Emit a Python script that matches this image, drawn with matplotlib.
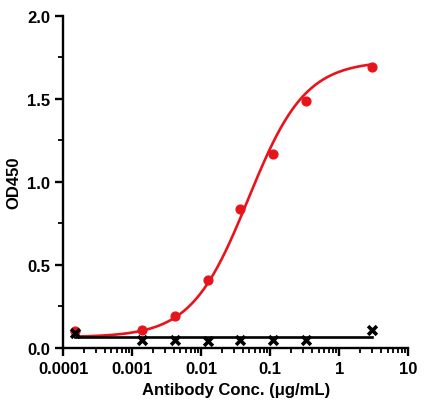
import numpy as np
import matplotlib
matplotlib.use("Agg")
import matplotlib.pyplot as plt
from matplotlib.ticker import LogLocator, FixedLocator, NullFormatter

conc = [0.00015, 0.0014, 0.0042, 0.0125, 0.037, 0.111, 0.333, 3.0]
od_red = [0.10, 0.11, 0.19, 0.41, 0.84, 1.17, 1.49, 1.69]
od_blk = [0.09, 0.05, 0.05, 0.045, 0.05, 0.05, 0.05, 0.11]
# fitted 4PL parameters (red) and flat fit (black)
fit_bottom, fit_top, fit_ec50, fit_hill = 0.065, 1.73, 0.048, 1.05
blk_level = 0.065

plt.rcParams['font.family'] = ['Liberation Sans', 'DejaVu Sans']
fig = plt.figure(figsize=(4.24, 4.14), dpi=100)
ax = fig.add_axes([0.149, 0.157, 0.814, 0.802])

xs = np.logspace(np.log10(conc[0]), np.log10(conc[-1]), 300)
ys = fit_bottom + (fit_top - fit_bottom) / (1 + (fit_ec50 / xs) ** fit_hill)
ax.plot(xs, ys, color='#e8141b', lw=1.9, zorder=2)
ax.plot([conc[0], conc[-1]], [blk_level, blk_level], color='black', lw=1.9, zorder=2)
ax.scatter(conc, od_red, color='#e8141b', s=40, zorder=3)
ax.scatter(conc, od_blk, color='black', marker='x', s=40, linewidths=2.6, zorder=4)

ax.set_xscale('log')
ax.set_xlim(0.0001, 10)
ax.set_ylim(0, 2.0)
ax.set_xticks([0.0001, 0.001, 0.01, 0.1, 1, 10])
ax.set_xticklabels(['0.0001', '0.001', '0.01', '0.1', '1', '10'])
ax.xaxis.set_minor_locator(LogLocator(base=10, subs=np.arange(2, 10)))
ax.xaxis.set_minor_formatter(NullFormatter())
ax.set_yticks([0, 0.5, 1.0, 1.5, 2.0])
ax.set_yticklabels(['0.0', '0.5', '1.0', '1.5', '2.0'])
ax.yaxis.set_minor_locator(FixedLocator([0.25, 0.75, 1.25, 1.75]))
for s in ['top', 'right']:
    ax.spines[s].set_visible(False)
for s in ['left', 'bottom']:
    ax.spines[s].set_linewidth(1.7)
ax.tick_params(which='major', length=6, width=1.7, labelsize=12)
ax.tick_params(which='minor', length=3.5, width=1.3)
for lab in ax.get_xticklabels() + ax.get_yticklabels():
    lab.set_fontweight('bold')
ax.set_xlabel('Antibody Conc. (μg/mL)', fontsize=12, fontweight='bold')
ax.set_ylabel('OD450', fontsize=12, fontweight='bold')
fig.savefig('out.png', dpi=100)
